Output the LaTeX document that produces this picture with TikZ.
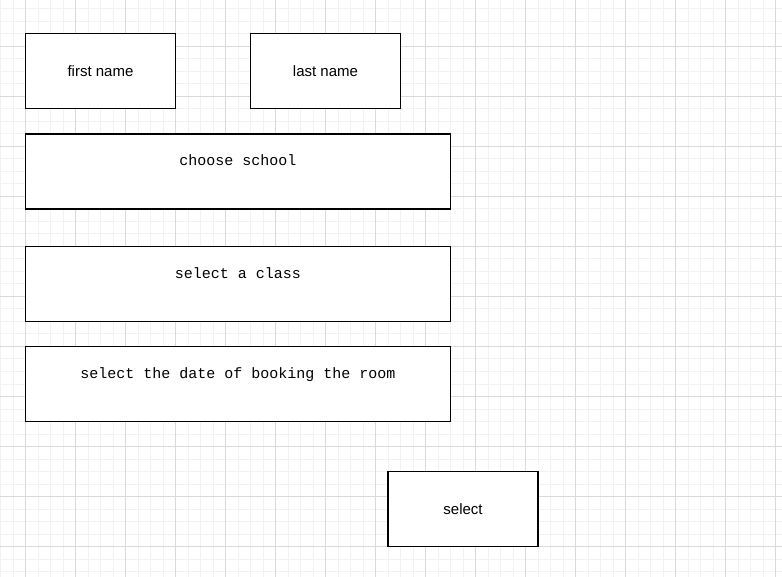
\documentclass[tikz,border=0pt]{standalone}
\usepackage{fontspec}
\setmainfont{Liberation Sans}
\newfontfamily\monofnt{Liberation Mono}
\begin{document}
\begin{tikzpicture}[x=1pt,y=-1pt,
  box/.style={draw=black,line width=1.2pt,fill=white,minimum width=150pt,minimum height=75pt,inner sep=0pt,font=\fontsize{15pt}{18pt}\selectfont},
  widebox/.style={draw=black,line width=1.2pt,fill=white,minimum width=425pt,minimum height=75pt,inner sep=0pt},
  monotext/.style={anchor=base,inner sep=0pt,font=\monofnt\fontsize{15pt}{18pt}\selectfont}]
\useasboundingbox (0,0) rectangle (782,577);
\fill[white] (0,0) rectangle (782,577);
% minor grid
\foreach \i in {0,...,62} {\draw[line width=1pt,color={rgb,255:red,242;green,242;blue,242}] (0.5+12.5*\i,0) -- (0.5+12.5*\i,577);}
\foreach \j in {0,...,45} {\draw[line width=1pt,color={rgb,255:red,242;green,242;blue,242}] (0,9+12.5*\j) -- (782,9+12.5*\j);}
% major grid
\foreach \i in {0,...,15} {\draw[line width=1pt,color={rgb,255:red,218;green,218;blue,218}] (25.5+50*\i,0) -- (25.5+50*\i,577);}
\foreach \j in {0,...,11} {\draw[line width=1pt,color={rgb,255:red,218;green,218;blue,218}] (0,46.5+50*\j) -- (782,46.5+50*\j);}
% boxes
\node[box] (first) at (100.5,71) {first name};
\node[box] (last) at (325.5,71) {last name};
\node[widebox] (school) at (238,171.5) {};
\node[monotext] (schooltxt) at ([yshift=-32.5pt]school.north) {choose school};
\node[widebox] (class) at (238,284) {};
\node[monotext] (classtxt) at ([yshift=-32.5pt]class.north) {select a class};
\node[widebox] (date) at (238,384) {};
\node[monotext] (datetxt) at ([yshift=-32.5pt]date.north) {select the date of booking the room};
\node[box] (select) at (463,509) {select};
\end{tikzpicture}
\end{document}
